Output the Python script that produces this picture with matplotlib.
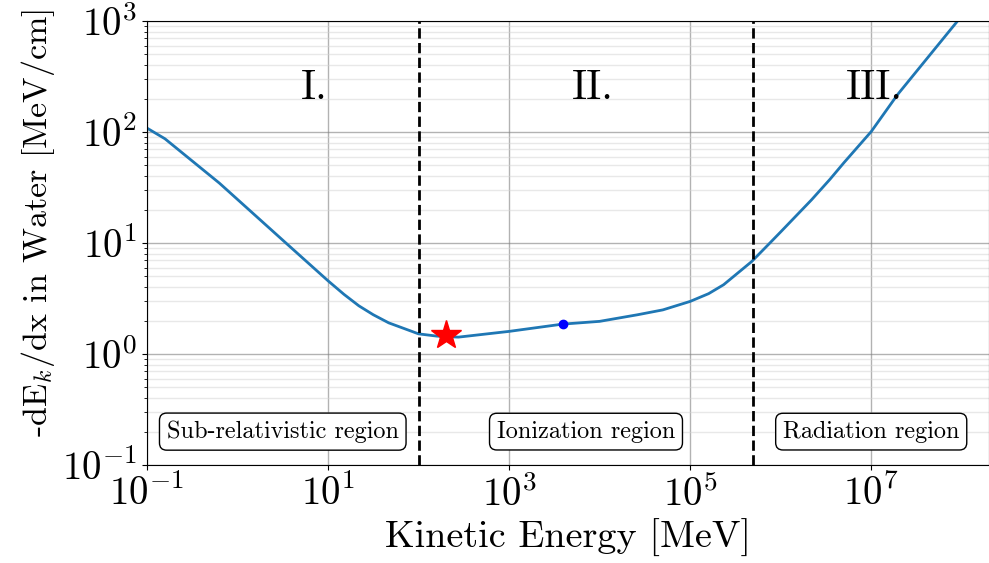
import numpy as np
import matplotlib
matplotlib.use('Agg')
import matplotlib.pyplot as plt
from matplotlib.ticker import NullLocator

plt.rcParams['font.family'] = 'serif'
plt.rcParams['font.serif'] = ['cmr10']
plt.rcParams['mathtext.fontset'] = 'cm'
plt.rcParams['axes.formatter.use_mathtext'] = True
plt.rcParams['axes.unicode_minus'] = False

# kinetic energy [MeV] and stopping power [MeV/cm]
energy = [0.1, 0.158, 0.63, 3.43, 10, 15, 21.9, 31.6, 46.8, 100, 160, 275,
          1e3, 3.89e3, 1e4, 2.63e4, 5e4, 1e5, 1.6e5, 2.34e5, 4.79e5, 7.59e5,
          1e6, 2.19e6, 3.5e6, 5e6, 1e7, 1.95e7, 8.9e7, 2e8]
dedx = [108.6, 87, 34.7, 10, 4.57, 3.45, 2.72, 2.26, 1.91, 1.52, 1.45, 1.42,
        1.60, 1.86, 1.97, 2.26, 2.5, 2.98, 3.5, 4.21, 6.82, 10.0, 12.6, 24.5,
        37.5, 53, 101, 217, 991, 2240]

region_edges = [100, 5e5]
region_names = ['Sub-relativistic region', 'Ionization region', 'Radiation region']
region_centers = [np.sqrt(0.1 * 100), np.sqrt(100 * 5e5), np.sqrt(5e5 * 2e8)]
numerals = ['I.', 'II.', 'III.']
numeral_x = [5, 5e3, 5.3e6]

star_point = (200, 1.48)
dot_point = (3900, 1.86)

fig = plt.figure(figsize=(9.89, 5.63), dpi=100)
ax = fig.add_axes([0.1486, 0.174, 0.8514, 0.7886])

ax.plot(energy, dedx, color='tab:blue', lw=2)
ax.plot(*star_point, marker='*', color='red', markersize=22)
ax.plot(*dot_point, marker='o', color='blue', markersize=6)

for e in region_edges:
    ax.axvline(e, color='black', ls='--', lw=2)

for xc, name in zip(region_centers, region_names):
    ax.text(xc, 0.2, name, fontsize=17.5, ha='center', va='center',
            bbox=dict(boxstyle='round', facecolor='white', edgecolor='black'))

for xn, num in zip(numeral_x, numerals):
    ax.text(xn, 200, num, fontsize=30, ha='left', va='baseline')

ax.set_xscale('log')
ax.set_yscale('log')
ax.set_xlim(0.1, 2e8)
ax.set_ylim(0.1, 1000)

ax.set_xticks([1e-1, 1e1, 1e3, 1e5, 1e7])
ax.xaxis.set_minor_locator(NullLocator())

ax.grid(which='major', color='gray', alpha=0.6, lw=1)
ax.grid(which='minor', axis='y', color='lightgray', alpha=0.5, lw=1)
ax.set_axisbelow(True)

ax.tick_params(labelsize=28)
ax.set_xlabel('Kinetic Energy [MeV]', fontsize=27.5)
ax.set_ylabel('-dE$_k$/dx in Water [MeV/cm]', fontsize=24.5)
ax.yaxis.set_label_coords(-0.107, 0.545)

fig.savefig('out.png', dpi=100)
